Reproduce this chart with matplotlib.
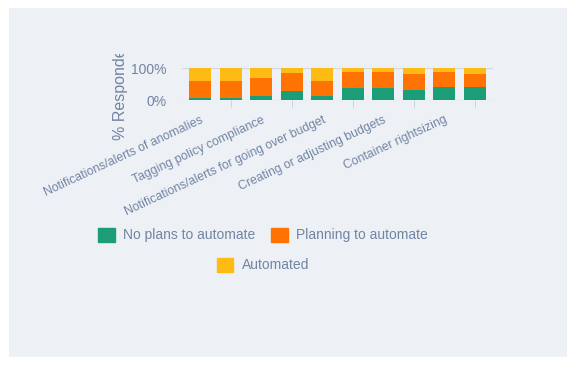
import matplotlib
matplotlib.use("Agg")
import matplotlib.pyplot as plt
import matplotlib.patches as mpatches
import numpy as np

# Datos (porcentaje de encuestados)
tick_labels = [
    "Notifications/alerts of anomalies",
    "Tagging policy compliance",
    "Notifications/alerts for going over budget",
    "Creating or adjusting budgets",
    "Container rightsizing",
]
no_plans = [5, 7, 14, 29, 11, 36, 39, 32, 42, 42]
planning = [55, 53, 54, 54, 49, 50, 50, 49, 47, 40]
automated = [40, 40, 32, 17, 40, 14, 11, 19, 11, 18]
series_names = ["No plans to automate", "Planning to automate", "Automated"]
series_colors = ["#1b9e77", "#ff7305", "#fdbb13"]

text_color = "#7184a3"
panel_color = "#edf1f6"

plt.rcParams["font.family"] = ["Liberation Sans", "DejaVu Sans"]

fig = plt.figure(figsize=(5.77, 3.68), dpi=100)
fig.patch.set_facecolor("white")
fig.add_artist(mpatches.Rectangle((9 / 577, 1 - 357 / 368), 558 / 577, 349 / 368,
                                  transform=fig.transFigure, facecolor=panel_color,
                                  edgecolor="none", zorder=-10))

ax = fig.add_axes([182 / 577, 1 - 100 / 368, 311 / 577, 32 / 368])
ax.set_facecolor(panel_color)

x = np.arange(len(no_plans))
bottom = np.zeros(len(x))
for vals, name, color in zip([no_plans, planning, automated], series_names, series_colors):
    ax.bar(x, vals, width=0.72, bottom=bottom, color=color, label=name, zorder=3)
    bottom += np.array(vals)

ax.set_xlim(-0.6, len(x) - 0.4)
ax.set_ylim(0, 100)
ax.set_yticks([0, 100])
ax.set_yticklabels(["0%", "100%"])
ax.yaxis.grid(True, color="#d3dae3", linewidth=1, zorder=0)
for s in ax.spines.values():
    s.set_visible(False)

ax.set_xticks(x[::2])
ax.set_xticklabels(tick_labels, rotation=25, ha="right", rotation_mode="anchor")
ax.set_xticks(x[1::2], minor=True)
ax.tick_params(axis="x", which="major", length=0, pad=10, labelsize=8.8, labelcolor=text_color)
ax.tick_params(axis="x", which="minor", length=5, color="#c7cfda")
ax.tick_params(axis="y", length=0, pad=11, labelsize=10, labelcolor=text_color)

ylab = ax.set_ylabel("% Respondents", fontsize=11.5, color=text_color, labelpad=2)
clip = mpatches.Rectangle((0, 0), 1, 1 - 54 / 368, transform=fig.transFigure)
ylab.set_clip_path(clip)

handles = [mpatches.Patch(color=c, label=n) for c, n in zip(series_colors, series_names)]
leg_kw = dict(frameon=False, fontsize=10, labelcolor=text_color, handlelength=1.2,
              handleheight=1.2, handletextpad=0.6, columnspacing=1.1, loc="center")
fig.legend(handles=handles[:2], ncol=2, bbox_to_anchor=(263 / 577, 1 - 235 / 368), **leg_kw)
fig.legend(handles=handles[2:], ncol=1, bbox_to_anchor=(263 / 577, 1 - 265 / 368), **leg_kw)

fig.savefig("out.png", dpi=100)
